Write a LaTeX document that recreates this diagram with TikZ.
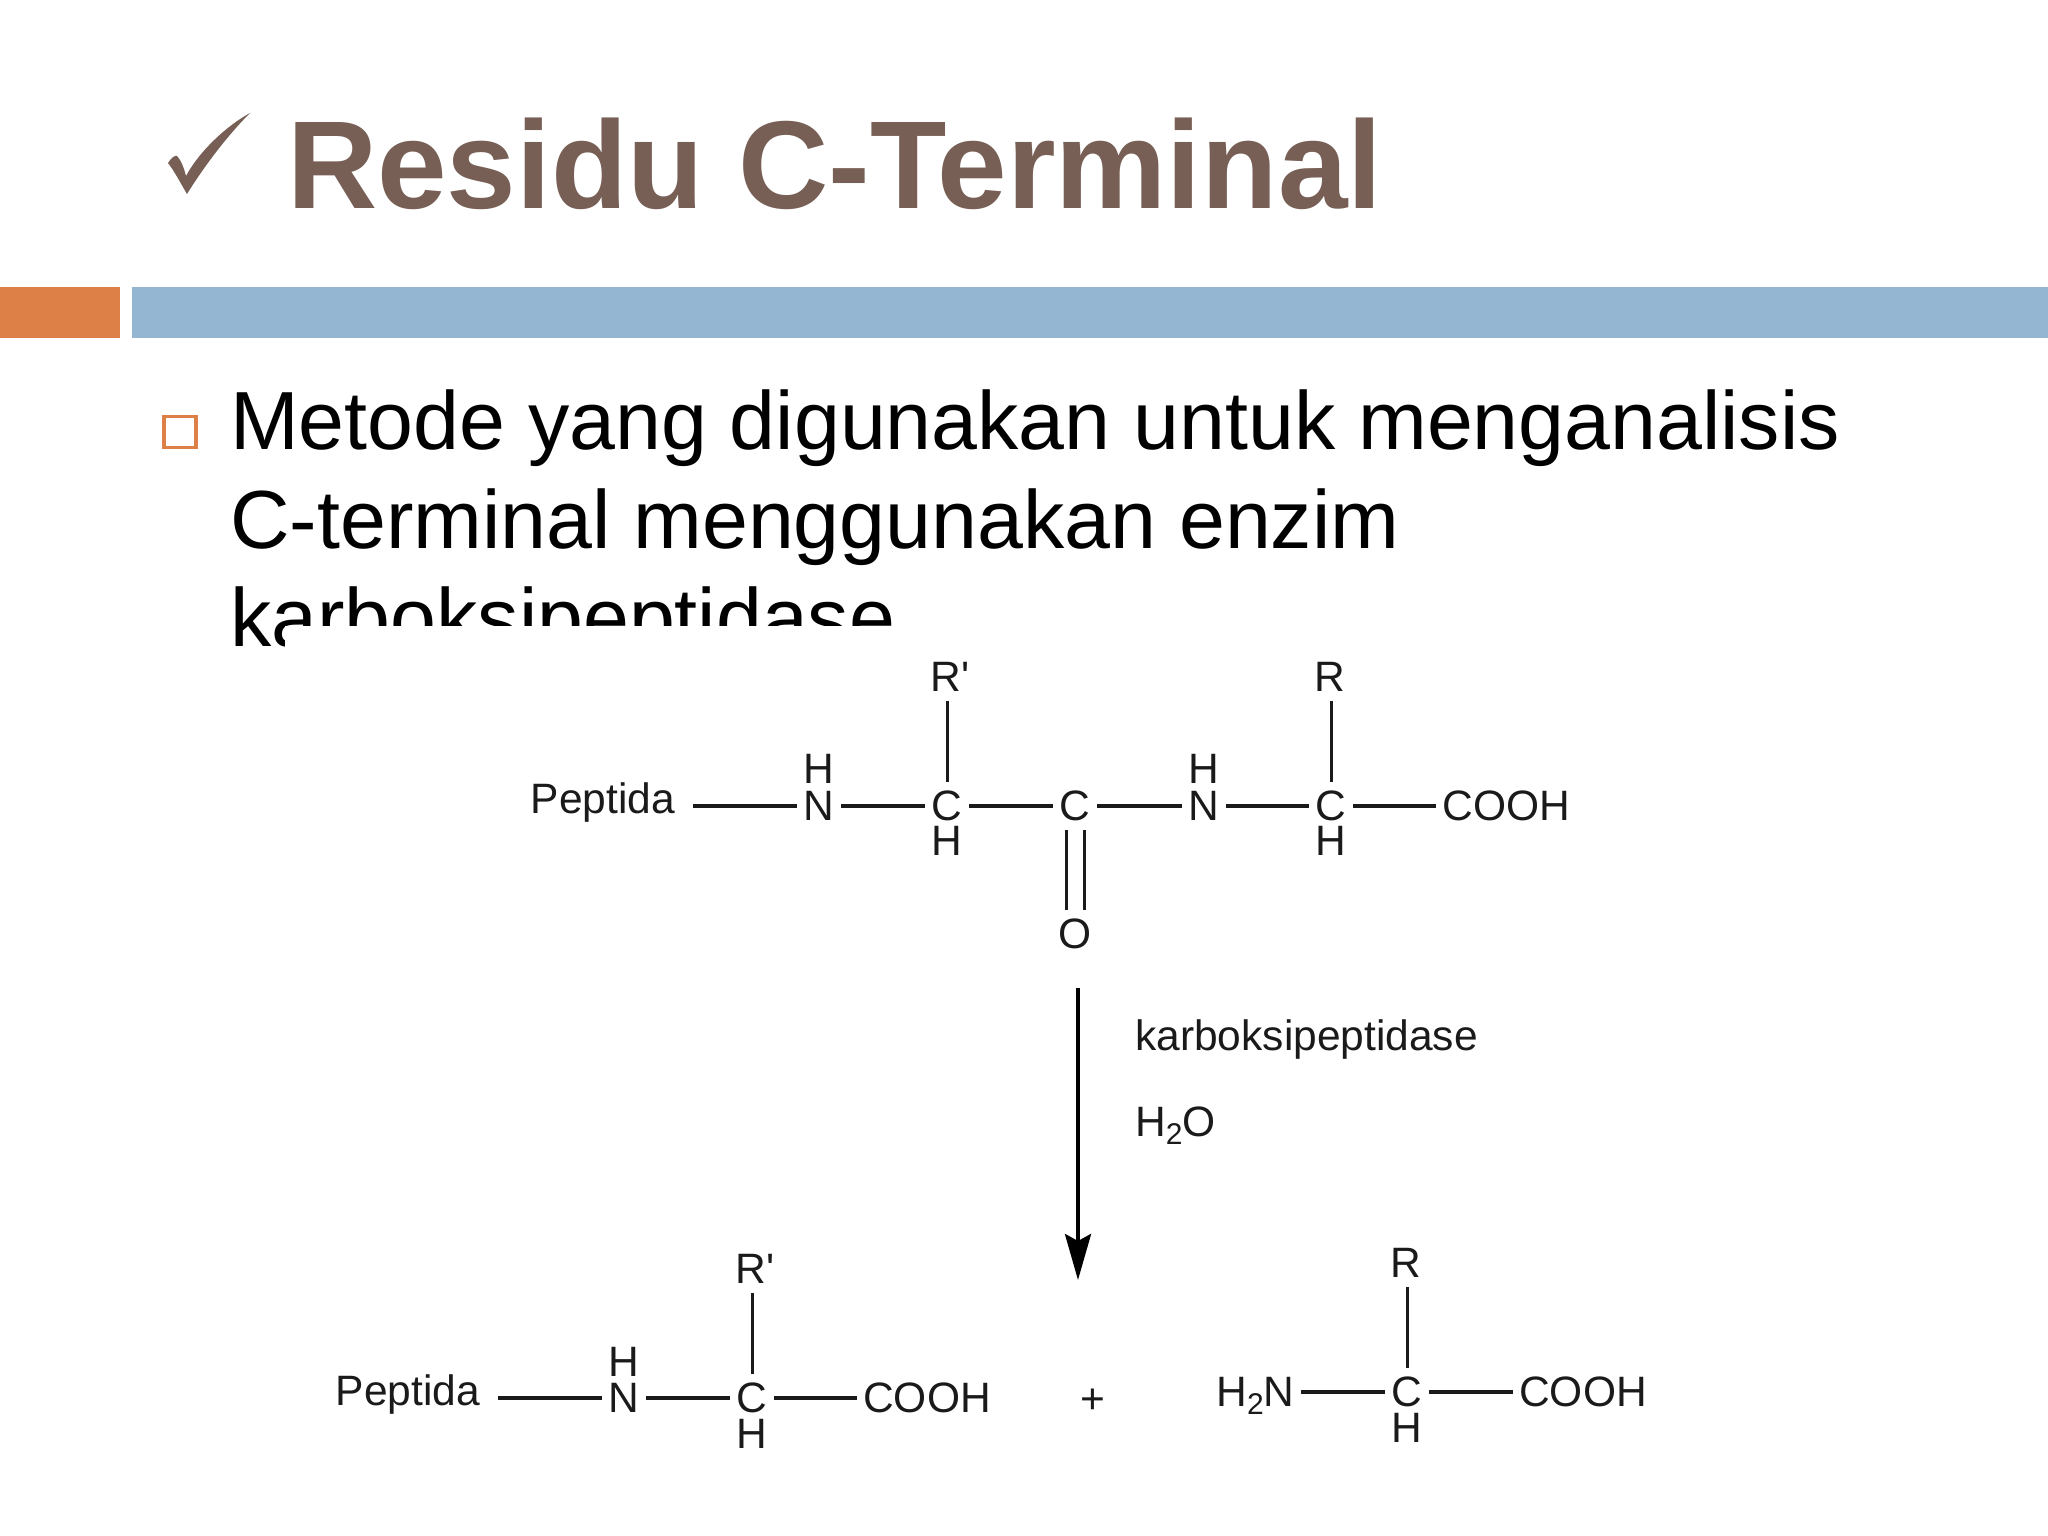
\documentclass[tikz,border=0pt]{standalone}
\usepackage{fontspec}
\setmainfont{Liberation Sans}
\usetikzlibrary{arrows.meta}
\definecolor{titlebrown}{HTML}{775F55}
\definecolor{accorange}{HTML}{DD8047}
\definecolor{accblue}{HTML}{94B6D2}
\definecolor{ink}{HTML}{1A1A1A}
\newcommand{\subtwo}{\raisebox{-8pt}{\fontsize{30}{30}\selectfont 2}}
\newcommand{\primemark}{\textquotesingle}
\tikzset{
  atom/.style={inner xsep=6.5pt,inner ysep=10pt,text height=28pt,text depth=0pt,text=ink,font=\fontsize{42.5}{42}\selectfont},
  hbond/.style={draw=ink,line width=4pt},
  vbond/.style={draw=ink,line width=3pt},
  bodyline/.style={anchor=base west,inner sep=0pt,text=black,font=\fontsize{82.5}{98}\selectfont},
  reagent/.style={anchor=base west,inner sep=0pt,text=ink,font=\fontsize{42.5}{42}\selectfont},
}
\begin{document}
\begin{tikzpicture}[x=1pt,y=-1pt]
\useasboundingbox (0,0) rectangle (2048,1536);
\fill[white] (0,0) rectangle (2048,1536);
% check mark
\fill[titlebrown] (168,163) .. controls (171,158) and (175,155) .. (177,156)
  .. controls (181,160) and (184,168) .. (186,176)
  .. controls (200,150) and (228,125) .. (250,113)
  .. controls (228,135) and (205,165) .. (187,194)
  .. controls (181,184) and (175,172) .. (168,163) -- cycle;
\node[anchor=base west,inner sep=0pt,text=titlebrown,font=\fontsize{125}{125}\selectfont\bfseries] (title) at (287,208.7) {Residu C-Terminal};
% bars
\fill[accorange] (0,287) rectangle (120,338);
\fill[accblue] (132,287) rectangle (2048,338);
% bullet
\draw[accorange,line width=3.5pt] (164,416.5) rectangle (196,447.5);
% body
\node[bodyline] (l1) at (230,449) {Metode yang digunakan untuk menganalisis};
\node[bodyline] (l2) at (230,548) {C-terminal menggunakan enzim};
\node[bodyline] (l3) at (230,646) {karboksipeptidase};
\fill[white] (285,626) rectangle (2048,1536);
% top molecule
\node[atom] (pa) at (603,799.5) {Peptida};
\node[atom] (na) at (819,806) {N};
\node[atom] (hna) at (819,769.5) {H};
\node[atom] (ca) at (947,806) {C};
\node[atom] (hca) at (947,841.5) {H};
\node[atom] (ra) at (950,677) {R\primemark};
\node[atom] (cb) at (1075,806) {C};
\node[atom] (ob) at (1075,934) {O};
\node[atom] (nc) at (1204,806) {N};
\node[atom] (hnc) at (1204,769.5) {H};
\node[atom] (cd) at (1331,806) {C};
\node[atom] (hcd) at (1331,841.5) {H};
\node[atom] (rd) at (1330,677) {R};
\node[atom] (ce) at (1506.5,806) {COOH};
\draw[hbond,shorten <=11pt] (pa.east |- na) -- (na);
\draw[hbond] (na) -- (ca);
\draw[hbond] (ca) -- (cb);
\draw[hbond] (cb) -- (nc);
\draw[hbond] (nc) -- (cd);
\draw[hbond] (cd) -- (ce);
\draw[vbond] (ca |- ra.south) -- (ca.north);
\draw[vbond] (cd |- rd.south) -- (cd.north);
\draw[vbond] ([xshift=-9pt]cb.south) -- ([xshift=-9pt]ob.north);
\draw[vbond] ([xshift=9pt]cb.south) -- ([xshift=9pt]ob.north);
% reaction arrow
\coordinate (arrA) at (1078,988);
\coordinate (arrB) at (1078,1280);
\draw[draw=black,line width=4pt,-{Stealth[length=46pt,width=26pt,inset=7pt]}] (arrA) -- (arrB);
\node[reagent] (enz) at (1135,1050) {karboksipeptidase};
\node[reagent] (wat) at (1135,1136) {H\subtwo O};
% bottom left molecule
\node[atom] (pf) at (408,1391.5) {Peptida};
\node[atom] (nf) at (624,1398) {N};
\node[atom] (hnf) at (624,1362) {H};
\node[atom] (cf) at (752,1398) {C};
\node[atom] (hcf) at (752,1434) {H};
\node[atom] (rf) at (755,1269) {R\primemark};
\node[atom] (cg) at (927,1398) {COOH};
\draw[hbond,shorten <=11pt] (pf.east |- nf) -- (nf);
\draw[hbond] (nf) -- (cf);
\draw[hbond] (cf) -- (cg);
\draw[vbond] (cf |- rf.south) -- (cf.north);
\node[atom] (plus) at (1093,1399) {+};
% bottom right molecule
\node[atom] (nh) at (1255.5,1392) {H\subtwo N};
\node[atom] (ch) at (1407,1392) {C};
\node[atom] (hch) at (1407,1428) {H};
\node[atom] (rh) at (1406,1263) {R};
\node[atom] (ci) at (1583,1392) {COOH};
\draw[hbond] (nh) -- (ch);
\draw[hbond] (ch) -- (ci);
\draw[vbond] (ch |- rh.south) -- (ch.north);
\end{tikzpicture}
\end{document}
